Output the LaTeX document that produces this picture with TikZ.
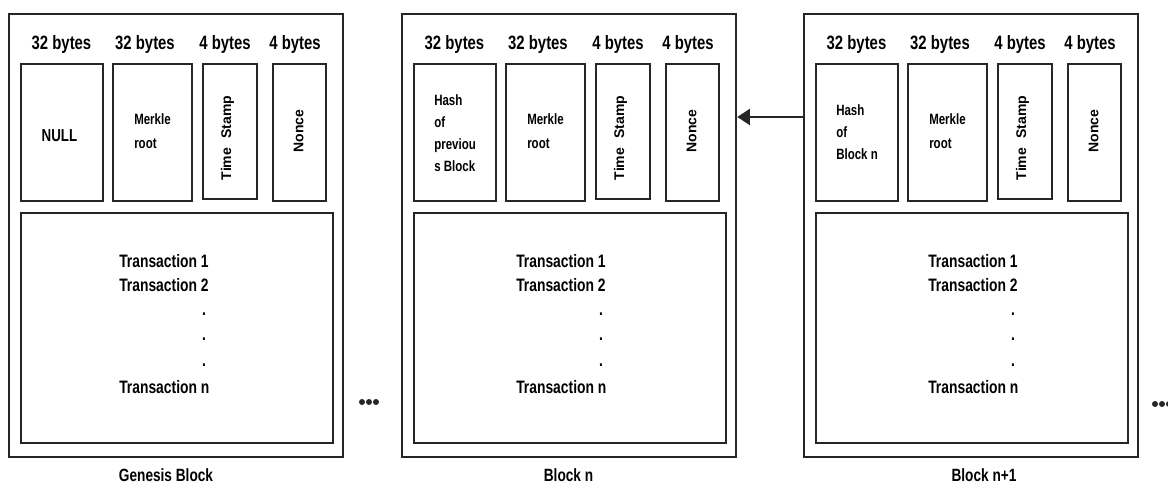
\documentclass[tikz,border=0pt]{standalone}
\usepackage{fontspec}
\setmainfont{Liberation Sans}
\newfontfamily\cond[FakeStretch=0.77]{Liberation Sans}
\usetikzlibrary{arrows.meta}
\newlength\pxu
\setlength\pxu{0.75pt}

\tikzset{
  box/.style n args={2}{draw=black!85, line width=1.9pt, inner sep=0pt,
    minimum width=#1\pxu, minimum height=#2\pxu},
  bytelbl/.style={font=\cond\bfseries\fontsize{14.5}{17}\selectfont, inner sep=0pt},
  txline/.style={font=\cond\bfseries\fontsize{13.5}{16}\selectfont, inner sep=0pt, anchor=west},
  txdot/.style={font=\cond\bfseries\fontsize{13.5}{16}\selectfont, inner sep=0pt},
  field/.style={font=\cond\bfseries\fontsize{11.2}{#1}\selectfont, align=left,
    inner sep=0pt, anchor=west},
  rotfield/.style={font=\bfseries\fontsize{10.5}{12}\selectfont, rotate=90, inner sep=0pt},
  blocklbl/.style={font=\cond\bfseries\fontsize{13.3}{16}\selectfont, inner sep=0pt},
  more/.style={fill=black!85, draw=none},
  link/.style={draw=black!85, line width=1.9pt, -{Triangle[length=9.5pt,width=12pt]}}
}

\begin{document}
\begin{tikzpicture}[x=0.75pt, y=-0.75pt]
  \useasboundingbox (0,0) rectangle (1168,484);
  \clip (0,0) rectangle (1168,484);

  % three blocks of the chain: header fields on top, transaction list below
  \foreach \i/\x/\tx/\lab/\labx in {1/9/110/Genesis Block/166,
                                     2/402/114/Block n/568.5,
                                     3/804/124/Block n+1/984}{
    \node[box={334}{443}] (b\i) at (\x+167, 235.5) {};
    % header field sizes
    \node[bytelbl] (b\i-s1) at (\x+52.5, 45) {32 bytes};
    \node[bytelbl] (b\i-s2) at (\x+136, 45) {32 bytes};
    \node[bytelbl] (b\i-s3) at (\x+216, 45) {4 bytes};
    \node[bytelbl] (b\i-s4) at (\x+286, 45) {4 bytes};
    % header fields
    \node[box={82}{137}] (b\i-f1) at (\x+53, 132.5) {};
    \node[box={79}{137}] (b\i-f2) at (\x+143.5, 132.5) {};
    \node[box={54}{135}] (b\i-f3) at (\x+221, 131.5) {};
    \node[box={53}{137}] (b\i-f4) at (\x+290.5, 132.5) {};
    \node[field=18pt] (b\i-mr) at (\x+125, 131) {Merkle\\root};
    \node[rotfield] (b\i-ts) at (\x+218.5, 138) {Time\hspace{4pt} Stamp};
    \node[rotfield] (b\i-nc) at (\x+289.5, 131) {Nonce};
    % transactions
    \node[box={312}{230}] (b\i-tx) at (\x+168, 328) {};
    \node[txline] (b\i-t1) at (\x+\tx, 261.5) {Transaction 1};
    \node[txline] (b\i-t2) at (\x+\tx, 285) {Transaction 2};
    \node[txdot] (b\i-d1) at (\x+\tx+85, 314) {.};
    \node[txdot] (b\i-d2) at (\x+\tx+85, 339) {.};
    \node[txdot] (b\i-d3) at (\x+\tx+85, 365) {.};
    \node[txline] (b\i-tn) at (\x+\tx, 387) {Transaction n};
    % block name
    \node[blocklbl] (b\i-name) at (\labx, 475.5) {\lab};
  }

  % contents of the first header field
  \node[font=\cond\bfseries\fontsize{13}{15}\selectfont, inner sep=0pt]
    (b1-null) at (59.5, 136) {NULL};
  \node[field=16.5pt] (b2-hash) at (434, 133) {Hash\\of\\previou\\s Block};
  \node[field=16.5pt] (b3-hash) at (836, 132) {Hash\\of\\Block n};

  % hash pointer from block n+1 back to block n
  \coordinate (ptr) at (0, 117);
  \draw[link] (b3.west |- ptr) -- (b2.east |- ptr);

  % continuation marks
  \foreach \cx in {362, 369, 376}{
    \fill[more] (\cx, 402) circle[radius=3];
  }
  \foreach \cx in {1155, 1162, 1169}{
    \fill[more] (\cx, 404) circle[radius=3];
  }
\end{tikzpicture}
\end{document}
